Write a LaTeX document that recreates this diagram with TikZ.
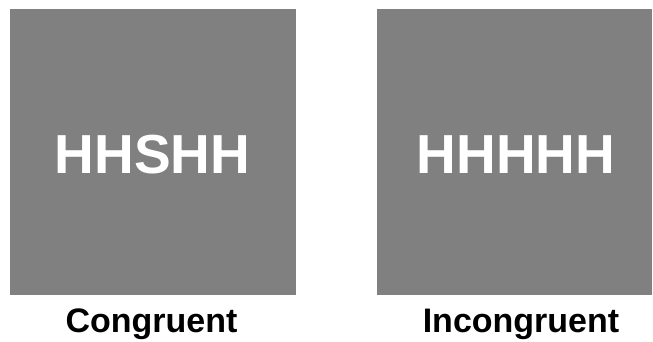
\documentclass[tikz,border=0pt]{standalone}
\usepackage{fontspec}
\setmainfont{Liberation Sans}
\definecolor{panelgray}{HTML}{808080}
\begin{document}
\begin{tikzpicture}[x=1pt,y=-1pt,
  panel/.style={fill=panelgray,draw=none},
  stim/.style={text=white,font=\fontsize{55}{60}\selectfont\bfseries,anchor=base,inner sep=0pt},
  captext/.style={text=black,font=\fontsize{34}{40}\selectfont\bfseries,anchor=base,inner sep=0pt}]
\useasboundingbox (0,0) rectangle (653,341);
\fill[panel] (10,9) rectangle (296,295);
\fill[panel] (377,9) rectangle (652,295);
\node[stim] (s1) at (152.5,173) {HHSHH};
\node[stim] (s2) at (516,173) {HHHHH};
\node[captext] (c1) at (151.5,332) {Congruent};
\node[captext] (c2) at (521,332) {Incongruent};
\end{tikzpicture}
\end{document}
